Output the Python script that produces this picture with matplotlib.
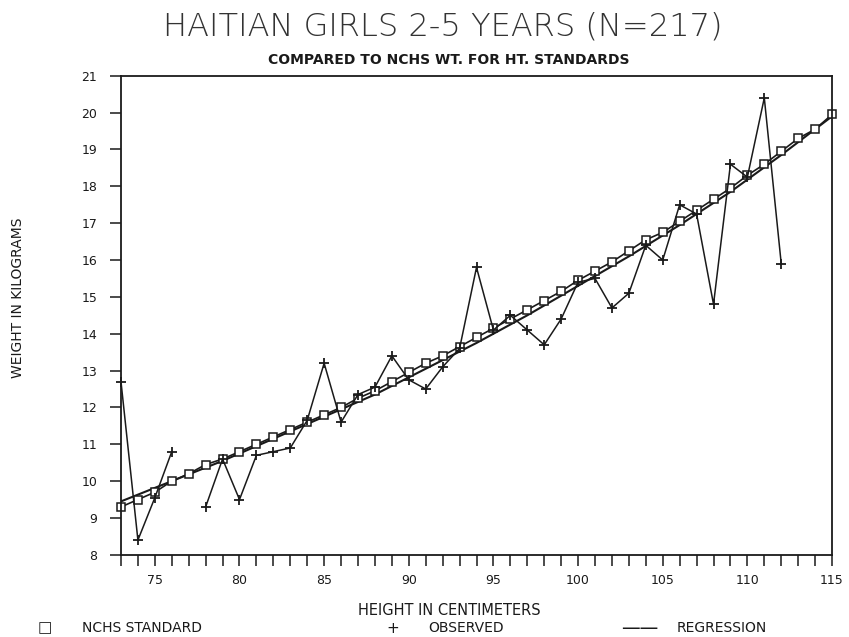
import numpy as np
import matplotlib
matplotlib.use("Agg")
import matplotlib.pyplot as plt
from matplotlib.ticker import MultipleLocator

# height in cm
nchs_ht = list(range(73, 116))
nchs_wt = [9.3, 9.5, 9.7, 10.0, 10.2, 10.45, 10.6, 10.8, 11.0, 11.2, 11.4, 11.6,
           11.8, 12.0, 12.25, 12.45, 12.7, 12.95, 13.2, 13.4, 13.65, 13.9, 14.15,
           14.4, 14.65, 14.9, 15.15, 15.45, 15.7, 15.95, 16.25, 16.55, 16.75,
           17.05, 17.35, 17.65, 17.95, 18.3, 18.6, 18.95, 19.3, 19.55, 19.95]

obs_ht = list(range(73, 113))
obs_wt = [12.7, 8.4, 9.55, 10.8, np.nan, 9.3, 10.6, 9.5, 10.7, 10.8, 10.9, 11.65,
          13.2, 11.6, 12.35, 12.55, 13.4, 12.75, 12.5, 13.1, 13.6, 15.8, 14.1,
          14.5, 14.1, 13.7, 14.4, 15.4, 15.5, 14.7, 15.1, 16.4, 16.0, 17.5,
          17.25, 14.8, 18.6, 18.25, 20.4, 15.9]

reg_ht = [73, 76, 79, 82, 85, 88, 91, 94, 97, 100, 103, 106, 109, 112, 115]
reg_wt = [9.45, 10.0, 10.55, 11.15, 11.75, 12.35, 13.05, 13.75, 14.5, 15.3,
          16.1, 16.95, 17.85, 18.85, 19.9]

ink = "#1a1a1a"
plt.rcParams['font.family'] = ['DejaVu Sans']

fig = plt.figure(figsize=(8.49, 6.37), dpi=100)
ax = fig.add_axes([0.1425, 0.129, 0.8375, 0.752])

ax.plot(reg_ht, reg_wt, color=ink, lw=1.5)
ax.plot(nchs_ht, nchs_wt, color=ink, lw=1.2, marker='s', ms=5.5,
        mfc='white', mec=ink, mew=1.1, clip_on=False)
ax.plot(obs_ht, obs_wt, color=ink, lw=1.1, marker='+', ms=7.5, mew=1.3,
        clip_on=False)

ax.set_xlim(73, 115)
ax.set_ylim(8, 21)
ax.xaxis.set_major_locator(MultipleLocator(5))
ax.xaxis.set_minor_locator(MultipleLocator(1))
ax.yaxis.set_major_locator(MultipleLocator(1))
ax.tick_params(axis='both', which='both', direction='out', length=8,
               width=1.1, color=ink, labelcolor=ink, labelsize=9)
ax.tick_params(axis='x', pad=6)
ax.tick_params(axis='y', pad=9)
ax.set_xticks([75, 80, 85, 90, 95, 100, 105, 110, 115])
for s in ax.spines.values():
    s.set_color(ink)
    s.set_linewidth(1.3)

fig.text(0.521, 0.958, "HAITIAN GIRLS 2-5 YEARS (N=217)", ha='center', va='center',
         fontsize=23, fontweight='light', color='#333333')
fig.text(0.529, 0.906, "COMPARED TO NCHS WT. FOR HT. STANDARDS", ha='center',
         va='center', fontsize=10, fontweight='bold', color=ink)
fig.text(0.021, 0.532, "WEIGHT IN KILOGRAMS", rotation=90, ha='center', va='center',
         fontsize=10, color=ink)
fig.text(0.529, 0.042, "HEIGHT IN CENTIMETERS", ha='center', va='center',
         fontsize=10.5, color=ink)

# legend row
fig.text(0.053, 0.014, "\u25a1", ha='center', va='center', fontsize=11, color=ink)
fig.text(0.097, 0.014, "NCHS STANDARD", ha='left', va='center', fontsize=10, color=ink)
fig.text(0.463, 0.014, "+", ha='center', va='center', fontsize=11, color=ink)
fig.text(0.504, 0.014, "OBSERVED", ha='left', va='center', fontsize=10, color=ink)
fig.text(0.753, 0.014, "\u2014\u2014", ha='center', va='center', fontsize=13.5, color=ink)
fig.text(0.797, 0.014, "REGRESSION", ha='left', va='center', fontsize=10, color=ink)

fig.savefig("out.png", dpi=100)
